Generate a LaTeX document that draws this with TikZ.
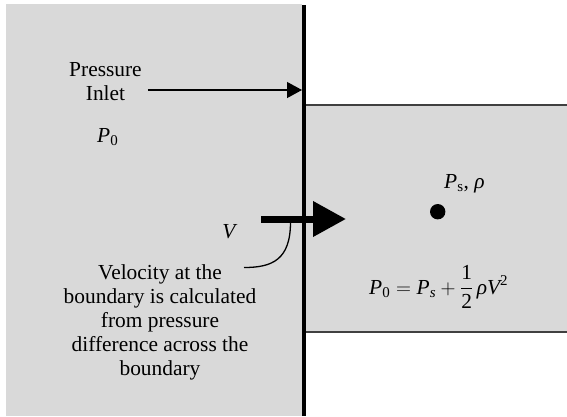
\documentclass[tikz,border=0pt]{standalone}
\usepackage{amsmath}
\usepackage{fontspec}
\setmainfont{Liberation Serif}
\usetikzlibrary{arrows.meta}
\definecolor{panel}{HTML}{D9D9D9}
\definecolor{rim}{HTML}{404040}

\begin{document}
\begin{tikzpicture}[x=1pt, y=-1pt,
  lbl/.style={inner sep=0pt, font=\rmfamily\fontsize{21.4}{24}\selectfont},
  note/.style={lbl, align=center},
  >={Triangle[length=15pt, width=16pt]}
]
\useasboundingbox (0,0) rectangle (567,416);
\fill[panel] (6,4) rectangle (302,416);
\fill[panel] (306,105) rectangle (567,332);
\draw[rim, line width=2pt] (306,105) -- (567,105);
\draw[rim, line width=2pt] (306,332) -- (567,332);
\draw[line width=4pt] (304,5) -- (304,416);

\node[note, inner xsep=6pt] (inlet) at (105.5,81.5) {Pressure\\Inlet};
\node[lbl, anchor=base west] (pin)   at (97,142)      {$\textit{P}_{\text{0}}$};
\node[lbl, anchor=base]      (vel)   at (229,238)     {$\textit{V}$};
\node[note]                  (why)   at (160,322.5)   {Velocity at the\\boundary is calculated\\from pressure\\difference across the\\boundary};
\node[lbl, anchor=base west] (state) at (444,188)     {\textit{P}\textsubscript{s}, \textit{ρ}};
\node[lbl, anchor=base west] (bern)  at (369,294)     {$\textit{P}_{\text{0}} = \textit{P}_{\textit{s}} + \dfrac{\text{1}}{\text{2}}\,\textit{ρ}\textit{V}^{\text{2}}$};
\node[circle, fill, inner sep=0pt, minimum size=15.4pt] (probe) at (437.7,211.7) {};

\coordinate (wallin)  at (302,90);
\coordinate (vtail)   at (261,219);
\coordinate (vtip)    at (346,219);
\coordinate (vjoin)   at (290.5,222);
\coordinate (callout) at (244,267.5);

\draw[->, line width=1.2pt] (inlet.east |- wallin) -- (wallin);
\draw[-{Triangle[length=33pt, width=34pt]}, line width=7pt] (vtail) -- (vtip);
\draw[line width=1.3pt] (vjoin) .. controls (290.5,260) and (272,267.5) .. (callout);
\end{tikzpicture}
\end{document}
